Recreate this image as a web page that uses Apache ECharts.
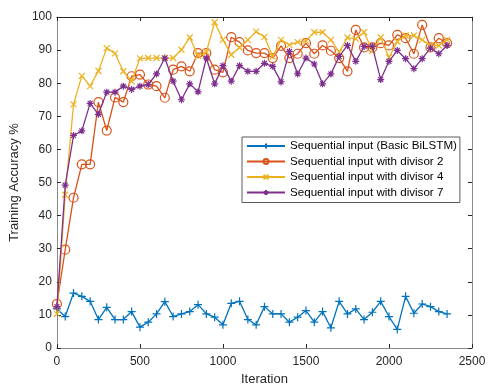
<!DOCTYPE html>
<html>
<head>
<meta charset="utf-8">
<script src="https://cdn.jsdelivr.net/npm/echarts@6/dist/echarts.min.js"></script>
<style>
  html, body { margin: 0; padding: 0; background: #fff; }
  #chart { width: 490px; height: 391px; }
</style>
</head>
<body>
<div id="chart"></div>
<script>
// training accuracy vs iteration, four input variants
const iterations = [0, 50, 100, 150, 200, 250, 300, 350, 400, 450, 500, 550, 600, 650, 700, 750,
  800, 850, 900, 950, 1000, 1050, 1100, 1150, 1200, 1250, 1300, 1350, 1400, 1450, 1500, 1550,
  1600, 1650, 1700, 1750, 1800, 1850, 1900, 1950, 2000, 2050, 2100, 2150, 2200, 2250, 2300, 2350]

const basic = [11.8, 9.5, 16.6, 15.6, 14.1, 8.6, 12.3, 8.6, 8.6, 11.0, 6.3, 7.8, 10.3, 14.0, 9.5, 10.3,
  11.0, 13.1, 10.3, 9.3, 7.0, 13.5, 14.1, 8.6, 7.0, 12.5, 10.3, 10.3, 7.8, 9.3, 11.3, 7.8,
  11.0, 6.1, 14.1, 10.3, 11.8, 8.6, 10.8, 14.1, 9.5, 5.6, 15.6, 10.5, 13.3, 12.5, 11.0, 10.3]

const div2 = [13.3, 29.7, 45.4, 55.5, 55.5, 74.3, 65.7, 75.7, 74.3, 82.1, 82.6, 79.6, 79.1, 75.6, 84.1, 85.1,
  83.6, 89.1, 89.1, 84.1, 83.3, 93.9, 92.4, 89.9, 89.1, 89.1, 87.6, 91.3, 87.6, 88.9, 92.1, 88.9,
  91.4, 89.8, 87.6, 83.6, 96.1, 90.8, 90.8, 92.1, 91.4, 94.6, 93.6, 88.9, 97.6, 90.8, 93.6, 92.1]

const div4 = [10.3, 46.3, 73.6, 82.2, 79.1, 83.7, 90.6, 89.0, 83.6, 80.6, 87.5, 87.6, 87.6, 87.6, 87.6, 90.1,
  93.8, 88.3, 89.4, 98.4, 93.1, 88.6, 90.8, 93.1, 95.6, 94.0, 88.1, 93.1, 91.6, 92.4, 92.8, 95.4,
  95.4, 93.1, 89.4, 93.8, 93.4, 95.4, 89.8, 93.8, 87.8, 92.6, 94.4, 94.4, 93.1, 91.4, 91.4, 93.1]

const div7 = [12.5, 49.2, 64.2, 65.6, 73.9, 70.6, 77.3, 77.3, 79.1, 78.1, 79.1, 79.6, 82.8, 87.6, 80.6, 75.0,
  79.8, 77.4, 87.6, 79.8, 85.3, 80.6, 85.3, 83.6, 83.6, 86.0, 85.1, 80.4, 89.6, 82.8, 87.6, 85.8,
  79.8, 82.8, 88.1, 91.4, 86.6, 91.1, 91.1, 81.1, 86.6, 89.9, 87.4, 84.4, 87.4, 90.6, 88.9, 91.4]

const seriesNames = [
  'Sequential input (Basic BiLSTM)',
  'Sequential input with divisor 2',
  'Sequential input with divisor 4',
  'Sequential input with divisor 7',
]
const yTicks = { min: 0, max: 100, step: 10 }
const xTicks = { min: 0, max: 2500, step: 500 }

// matlab default palette + marker shapes
const COLORS = ['#0072BD', '#D95319', '#EDB120', '#7E2F8E']
const MARKERS = [
  { symbol: 'path://M5,0 L5,10 M0,5 L10,5', size: 8 },
  { symbol: 'circle', size: 9 },
  { symbol: 'path://M0,0 L10,10 M10,0 L0,10', size: 6 },
  { symbol: 'path://M5,0 L5,10 M0,5 L10,5 M1.5,1.5 L8.5,8.5 M8.5,1.5 L1.5,8.5', size: 7 },
]
const FONT = '"Liberation Sans", Arial, sans-serif'
const INK = '#262626'
const EDGE = '#8a8a8a'

const chart = echarts.init(document.getElementById('chart'), null, { renderer: 'canvas' })

const pairs = (ys) => iterations.map((x, i) => [x, ys[i]])

const axisBase = (color) => ({
  axisLine: { show: true, onZero: false, lineStyle: { color, width: 1 } },
  axisTick: { show: true, inside: true, length: 4, lineStyle: { color: INK } },
  splitLine: { show: false },
})

chart.setOption({
  animation: false,
  textStyle: { fontFamily: FONT },
  grid: { left: 49, right: 18, top: 17, bottom: 40 },
  legend: {
    orient: 'vertical', left: 242, top: 137,
    itemWidth: 38, itemHeight: 6, itemGap: 1.5,
    padding: [2, 3, 3, 4],
    backgroundColor: '#fff', borderColor: '#5a5a5a', borderWidth: 1, borderRadius: 0,
    textStyle: { color: '#000', fontSize: 11.6, fontFamily: FONT, lineHeight: 14 },
    data: seriesNames,
  },
  xAxis: [
    {
      type: 'value', min: xTicks.min, max: xTicks.max, interval: xTicks.step,
      ...axisBase(EDGE),
      axisLabel: { color: INK, fontSize: 12, margin: 8, formatter: (v) => String(v) },
      name: 'Iteration', nameLocation: 'middle', nameGap: 25,
      nameTextStyle: { color: INK, fontSize: 13 },
    },
    {
      type: 'value', position: 'top', min: xTicks.min, max: xTicks.max, interval: xTicks.step,
      ...axisBase(INK),
      axisLabel: { show: false },
    },
  ],
  yAxis: [
    {
      type: 'value', min: yTicks.min, max: yTicks.max, interval: yTicks.step,
      ...axisBase(EDGE),
      axisLabel: { color: INK, fontSize: 12, margin: 5, formatter: (v) => String(v) },
      name: 'Training Accuracy %', nameLocation: 'middle', nameGap: 30,
      nameTextStyle: { color: INK, fontSize: 13 },
    },
    {
      type: 'value', position: 'right', min: yTicks.min, max: yTicks.max, interval: yTicks.step,
      ...axisBase(EDGE),
      axisLabel: { show: false },
    },
  ],
  series: [basic, div2, div4, div7].map((ys, k) => ({
    name: seriesNames[k],
    type: 'line',
    data: pairs(ys),
    symbol: MARKERS[k].symbol,
    symbolSize: MARKERS[k].size,
    showAllSymbol: true,
    lineStyle: { color: COLORS[k], width: 1.3 },
    itemStyle: {
      color: k === 1 ? 'rgba(0,0,0,0)' : COLORS[k],
      borderColor: COLORS[k],
      borderWidth: 1.2,
    },
    emphasis: { disabled: true },
    z: 2 + k,
  })),
})
</script>
</body>
</html>
